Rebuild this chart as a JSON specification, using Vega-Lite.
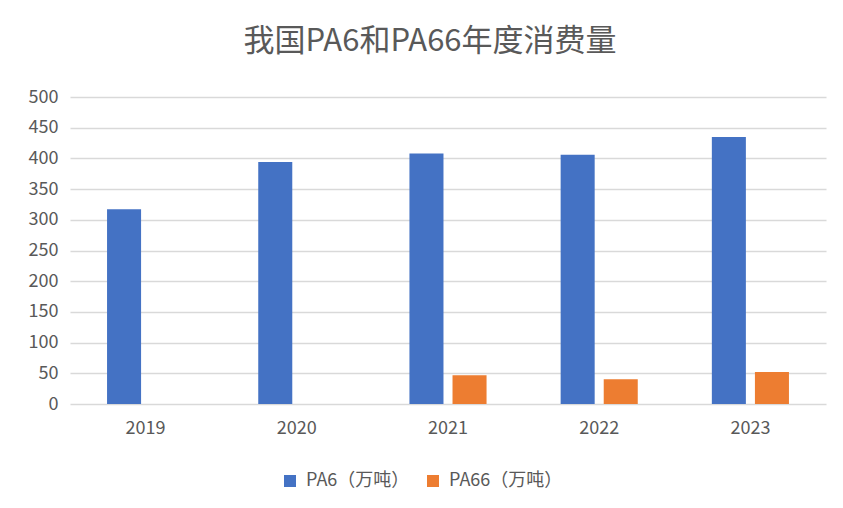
{
  "$schema": "https://vega.github.io/schema/vega-lite/v6.json",
  "autosize": "none",
  "width": 756,
  "height": 307,
  "padding": {"left": 70, "top": 97, "right": 17, "bottom": 104},
  "background": "white",
  "title": {
    "text": "我国PA6和PA66年度消费量",
    "fontSize": 31,
    "font": "Noto Sans CJK SC",
    "fontWeight": "normal",
    "color": "#595959",
    "anchor": "middle",
    "dx": -18,
    "offset": 30
  },
  "data": {
    "values": [
      {"year": "2019", "series": "PA6（万吨）", "value": 317},
      {"year": "2020", "series": "PA6（万吨）", "value": 394},
      {"year": "2021", "series": "PA6（万吨）", "value": 408},
      {"year": "2022", "series": "PA6（万吨）", "value": 406},
      {"year": "2023", "series": "PA6（万吨）", "value": 435},
      {"year": "2021", "series": "PA66（万吨）", "value": 47},
      {"year": "2022", "series": "PA66（万吨）", "value": 40.5},
      {"year": "2023", "series": "PA66（万吨）", "value": 52}
    ]
  },
  "mark": {"type": "bar"},
  "encoding": {
    "x": {
      "field": "year",
      "type": "nominal",
      "scale": {"paddingInner": 0.49, "paddingOuter": 0.245},
      "axis": {
        "title": null,
        "labelAngle": 0,
        "ticks": false,
        "domain": false,
        "labelPadding": 15,
        "labelFontSize": 18,
        "labelFont": "Noto Sans CJK SC",
        "labelColor": "#595959"
      }
    },
    "xOffset": {
      "field": "series",
      "type": "nominal",
      "sort": ["PA6（万吨）", "PA66（万吨）"],
      "scale": {"paddingInner": 0.21, "paddingOuter": 0}
    },
    "y": {
      "field": "value",
      "type": "quantitative",
      "scale": {"domain": [0, 500]},
      "axis": {
        "title": null,
        "values": [0, 50, 100, 150, 200, 250, 300, 350, 400, 450, 500],
        "ticks": false,
        "domain": false,
        "labelPadding": 12,
        "labelFontSize": 18,
        "labelFont": "Noto Sans CJK SC",
        "labelColor": "#595959",
        "gridColor": "#d9d9d9",
        "gridWidth": 1.3
      }
    },
    "color": {
      "field": "series",
      "type": "nominal",
      "sort": ["PA6（万吨）", "PA66（万吨）"],
      "scale": {"range": ["#4472C4", "#ED7D31"]},
      "legend": {
        "title": null,
        "orient": "none",
        "legendX": 211,
        "legendY": 375,
        "direction": "horizontal",
        "symbolType": "square",
        "symbolSize": 144,
        "symbolStrokeWidth": 0,
        "labelFontSize": 18,
        "labelFont": "Noto Sans CJK SC",
        "labelColor": "#595959",
        "labelOffset": 7,
        "columnPadding": 14
      }
    }
  },
  "config": {
    "view": {"stroke": null}
  }
}
